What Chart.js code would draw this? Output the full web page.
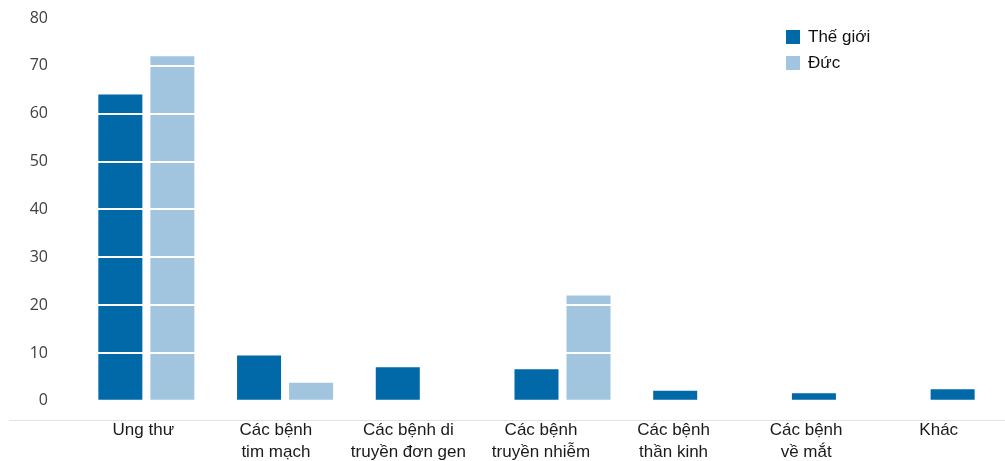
<!DOCTYPE html>
<html lang="vi">
<head>
<meta charset="utf-8">
<title>Thế giới / Đức</title>
<script src="https://cdn.jsdelivr.net/npm/chart.js@4/dist/chart.umd.min.js"></script>
<style>
  body { margin: 0; background: #fff; }
  #wrap { position: relative; width: 1005px; height: 461px; }
  #legend {
    position: absolute; left: 786px; top: 24px;
    font: 17px "Liberation Sans", Arial, sans-serif; color: #111;
  }
  #legend .item { display: flex; align-items: center; height: 26px; }
  #legend .box { width: 14px; height: 14px; margin-right: 8px; }
</style>
</head>
<body>
<div id="wrap">
  <canvas id="chart"></canvas>
  <div id="legend"></div>
</div>
<script>
const categories = [
  'Ung thư',
  ['Các bệnh', 'tim mạch'],
  ['Các bệnh di', 'truyền đơn gen'],
  ['Các bệnh', 'truyền nhiễm'],
  ['Các bệnh', 'thần kinh'],
  ['Các bệnh', 'về mắt'],
  'Khác'
];
const theGioi = [64, 9.5, 7, 6.6, 2.1, 1.6, 2.4];
const duc = [72, 3.8, null, 22, null, null, null];
const yTicks = [0, 10, 20, 30, 40, 50, 60, 70, 80];
const seriesNames = ['Thế giới', 'Đức'];
const seriesColors = ['#0169A8', '#A2C5DF'];

// legend as plain html, top right
const legendEl = document.getElementById('legend');
seriesNames.forEach((name, i) => {
  const item = document.createElement('div');
  item.className = 'item';
  const box = document.createElement('span');
  box.className = 'box';
  box.style.background = seriesColors[i];
  item.appendChild(box);
  item.appendChild(document.createTextNode(name));
  legendEl.appendChild(item);
});

// thin grey base line, runs under the y labels too
const baseLine = {
  id: 'baseLine',
  afterDraw(chart) {
    const { ctx, chartArea } = chart;
    ctx.save();
    ctx.strokeStyle = '#e2e2e2';
    ctx.lineWidth = 1;
    ctx.beginPath();
    ctx.moveTo(9, Math.round(chartArea.bottom) + 0.5);
    ctx.lineTo(chart.width, Math.round(chartArea.bottom) + 0.5);
    ctx.stroke();
    ctx.restore();
  }
};

const toPoints = arr => arr.map((v, i) => ({ x: i, y: v }));

new Chart(document.getElementById('chart'), {
  type: 'bar',
  data: {
    datasets: [
      {
        label: seriesNames[0],
        data: toPoints(theGioi),
        backgroundColor: seriesColors[0],
        categoryPercentage: 0.75,
        barPercentage: 0.846
      },
      {
        label: seriesNames[1],
        data: toPoints(duc),
        backgroundColor: seriesColors[1],
        categoryPercentage: 0.75,
        barPercentage: 0.846
      }
    ]
  },
  options: {
    responsive: true,
    maintainAspectRatio: false,
    animation: false,
    layout: { padding: { left: 29, top: 18, right: 0, bottom: 0 } },
    plugins: {
      legend: { display: false },
      tooltip: { enabled: false }
    },
    scales: {
      x: {
        type: 'linear',
        display: false,
        offset: false,
        min: -0.5,
        max: 6.19,
        afterBuildTicks: axis => {
          axis.ticks = categories.map((_, i) => ({ value: i }));
        }
      },
      xLabels: {
        type: 'category',
        position: 'bottom',
        labels: categories,
        offset: true,
        grid: { display: false, drawTicks: false },
        border: { display: false },
        afterFit: axis => {
          axis.height = 41;
          axis.paddingLeft = 0;
          axis.paddingRight = 0;
        },
        ticks: {
          padding: -1,
          maxRotation: 0,
          autoSkip: false,
          color: '#1a1a1a',
          font: { family: '"Liberation Sans", Arial, sans-serif', size: 17, lineHeight: 1.3 }
        }
      },
      y: {
        min: -4,
        max: 80,
        afterBuildTicks: axis => {
          axis.ticks = yTicks.map(v => ({ value: v }));
        },
        afterFit: axis => {
          axis.width = 48;
          axis.paddingTop = 0;
          axis.paddingBottom = 0;
        },
        // white grid drawn on top of the bars
        grid: { color: '#ffffff', lineWidth: 2, drawTicks: false, z: 1 },
        border: { display: false },
        ticks: {
          padding: 29,
          color: '#404040',
          font: { family: '"Open Sans", sans-serif', size: 16 }
        }
      }
    }
  },
  plugins: [baseLine]
});
</script>
</body>
</html>
